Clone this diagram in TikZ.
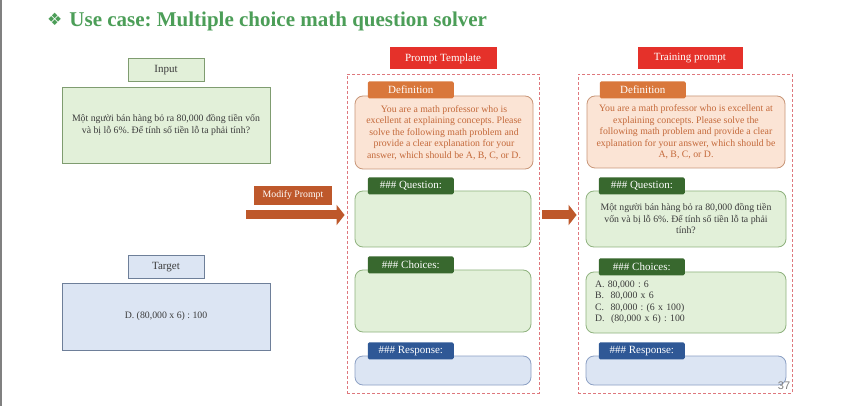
\documentclass[tikz,border=0pt]{standalone}
\usepackage{fontspec}
\setmainfont{Liberation Serif}
\setsansfont{Liberation Sans}
\newfontfamily\symfont{DejaVu Sans}
\usepackage{xcolor}
\usetikzlibrary{arrows.meta, positioning}
\frenchspacing

\definecolor{titlegreen}{RGB}{76,158,88}
\definecolor{hdrred}{RGB}{229,49,42}
\definecolor{framered}{RGB}{222,120,125}
\definecolor{taborange}{RGB}{217,119,59}
\definecolor{peach}{RGB}{251,228,213}
\definecolor{defborder}{RGB}{200,150,120}
\definecolor{deftext}{RGB}{196,105,58}
\definecolor{tabgreen}{RGB}{56,104,46}
\definecolor{lightgreen}{RGB}{226,240,217}
\definecolor{greenborder}{RGB}{143,178,126}
\definecolor{tabblue}{RGB}{47,88,150}
\definecolor{lightblue}{RGB}{220,229,243}
\definecolor{blueborder}{RGB}{140,160,196}
\definecolor{inborder}{RGB}{127,156,112}
\definecolor{tgborder}{RGB}{110,127,153}
\definecolor{arrowbrown}{RGB}{190,88,43}
\definecolor{darktext}{RGB}{60,60,60}

\begin{document}
\begin{tikzpicture}[
    x=1pt, y=-1pt,
    every node/.style={font=\fontsize{9.8}{11.5}\selectfont},
    inbox/.style={rectangle, draw=inborder, fill=lightgreen, line width=0.8pt, text=darktext, align=center},
    tgbox/.style={rectangle, draw=tgborder, fill=lightblue, line width=0.8pt, text=darktext, align=center},
    boxlabel/.style={minimum width=76pt, minimum height=23pt, font=\fontsize{11}{13}\selectfont},
    header/.style={rectangle, fill=hdrred, text=white, font=\fontsize{11}{13}\selectfont, minimum height=22pt, inner sep=0pt},
    dashframe/.style={rectangle, draw=framered, dash pattern=on 3pt off 2pt, line width=0.8pt},
    tabbox/.style={rectangle, rounded corners=1.5pt, text=white, font=\fontsize{11}{13}\selectfont, minimum width=86pt, minimum height=17pt, inner sep=0pt},
    deftab/.style={tabbox, fill=taborange},
    greentab/.style={tabbox, fill=tabgreen},
    bluetab/.style={tabbox, fill=tabblue},
    defbody/.style={rectangle, rounded corners=8pt, draw=defborder, fill=peach, text=deftext, line width=0.8pt, align=center},
    greenbody/.style={rectangle, rounded corners=8pt, draw=greenborder, fill=lightgreen, text=darktext, line width=0.8pt, align=center},
    bluebody/.style={rectangle, rounded corners=8pt, draw=blueborder, fill=lightblue, line width=0.8pt},
    bigarrow/.style={line width=9pt, color=arrowbrown, -{Triangle[length=8pt, width=20pt]}}
]

\useasboundingbox (0,0) rectangle (849,406);
\fill[white] (0,0) rectangle (849,406);
\draw[gray, line width=2pt] (1,0) -- (1,406);

% Title
\node[anchor=base west, inner sep=0pt, text=titlegreen, font=\fontsize{21}{25}\selectfont\bfseries] (title) at (47,27)
    {\raisebox{1pt}{\symfont\fontsize{17}{17}\selectfont ❖}\hspace{7pt}Use case: Multiple choice math question solver};

% Input and target
\node[inbox, minimum width=208pt, minimum height=76pt] (inbody) at (166,125)
    {Một người bán hàng bỏ ra 80,000 đồng tiền vốn\\ và bị lỗ 6\%. Để tính số tiền lỗ ta phải tính?};
\node[inbox, boxlabel, above=5pt of inbody] (inlbl) {Input};
\node[tgbox, minimum width=208pt, minimum height=67pt] (tgbody) at (166,316.5) {D. (80,000 x 6) : 100};
\node[tgbox, boxlabel, above=4pt of tgbody] (tglbl) {Target};

% Prompt template
\node[dashframe, minimum width=192pt, minimum height=319pt] (frame1) at (443,233.5) {};
\node[header, minimum width=107pt, above=4pt of frame1] (hdr1) {Prompt Template};
\node[defbody, minimum width=178pt, minimum height=73pt] (def1body) at (444,132.5)
    {You are a math professor who is\\ excellent at explaining concepts. Please\\ solve the following math problem and\\ provide a clear explanation for your\\ answer, which should be A, B, C, or D.};
\node[deftab, above right=-3pt and 13pt of def1body.north west] (def1tab) {Definition};
\node[greenbody, minimum width=176pt, minimum height=56pt] (q1body) at (443,219) {};
\node[greentab, above right=-4pt and 13pt of q1body.north west] (q1tab) {\#\#\# Question:};
\node[greenbody, minimum width=176pt, minimum height=62pt] (c1body) at (443,301) {};
\node[greentab, above right=-4pt and 13pt of c1body.north west] (c1tab) {\#\#\# Choices:};
\node[bluebody, minimum width=176pt, minimum height=29pt] (r1body) at (443,370.5) {};
\node[bluetab, above right=-4pt and 13pt of r1body.north west] (r1tab) {\#\#\# Response:};

% Training prompt
\node[dashframe, minimum width=214pt, minimum height=319pt] (frame2) at (685,233.5) {};
\node[header, minimum width=105pt, above=4pt of frame2, xshift=5pt] (hdr2) {Training prompt};
\node[defbody, minimum width=198pt, minimum height=72pt] (def2body) at (686,132)
    {You are a math professor who is excellent at\\ explaining concepts. Please solve the\\ following math problem and provide a clear\\ explanation for your answer, which should be\\ A, B, C, or D.};
\node[deftab, above right=-3pt and 13pt of def2body.north west] (def2tab) {Definition};
\node[greenbody, minimum width=200pt, minimum height=56pt] (q2body) at (686,219)
    {Một người bán hàng bỏ ra 80,000 đồng tiền\\ vốn và bị lỗ 6\%. Để tính số tiền lỗ ta phải\\ tính?};
\node[greentab, above right=-4pt and 13pt of q2body.north west] (q2tab) {\#\#\# Question:};
\node[greenbody, minimum width=200pt, minimum height=61pt, text width=182pt, align=left] (c2body) at (686,302.5)
    {A. 80,000 : 6\\ B.~ 80,000 x 6\\ C.~ 80,000 : (6 x 100)\\ D.~ (80,000 x 6) : 100};
\node[greentab, above right=-4pt and 13pt of c2body.north west] (c2tab) {\#\#\# Choices:};
\node[bluebody, minimum width=200pt, minimum height=29pt] (r2body) at (686,370.5) {};
\node[bluetab, above right=-4pt and 13pt of r2body.north west] (r2tab) {\#\#\# Response:};

% Arrows
\coordinate (mstart) at (246,215);
\node[rectangle, fill=arrowbrown, text=white, minimum width=78pt, minimum height=19pt, inner sep=0pt] (modlbl) at (293,195.5) {Modify Prompt};
\draw[bigarrow] (mstart) -- ([xshift=-2pt]mstart -| frame1.west);
\draw[bigarrow] ([xshift=3pt]frame1.east |- mstart) -- ([xshift=-1pt]frame2.west |- mstart);

\node[text=gray, font=\sffamily\fontsize{11}{13}\selectfont] (pagenum) at (784,386) {37};

\end{tikzpicture}
\end{document}
